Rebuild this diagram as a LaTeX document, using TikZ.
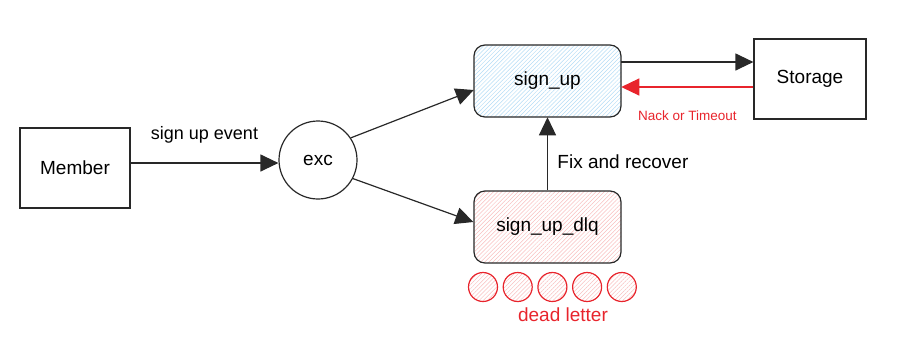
\documentclass[tikz,border=0pt]{standalone}
\usepackage{fontspec}
\setmainfont{Liberation Sans}
\usetikzlibrary{arrows.meta,patterns.meta}
\definecolor{dlred}{RGB}{232,36,44}
\definecolor{hatchblue}{RGB}{180,220,245}
\definecolor{hatchred}{RGB}{248,190,190}
\definecolor{ink}{RGB}{40,40,40}

\begin{document}
\begin{tikzpicture}[x=1pt, y=-1pt, line width=1.2pt, draw=ink,
  >={Triangle[length=18pt,width=17pt]},
  font=\fontsize{19}{23}\selectfont,
  hatch/.style={pattern={Lines[angle=45,distance=2.9pt,line width=0.5pt]}, pattern color=#1},
  box/.style={draw, minimum width=110pt, minimum height=80pt},
  queue/.style={draw, rounded corners=11pt, minimum width=147pt, minimum height=72pt},
  msg/.style={circle, draw=dlred, minimum size=29pt, inner sep=0pt, hatch=hatchred}]
\useasboundingbox (0,0) rectangle (916,349);

\node[box] (mem) at (75,168) {Member};
\node[circle, draw, minimum size=78pt, inner sep=0pt] (exc) at (318,160) {exc};
\node[queue, hatch=hatchblue] (su) at (547.5,81) {sign\_up};
\node[queue, hatch=hatchred] (dlq) at (547.5,227) {sign\_up\_dlq};
\node[box, minimum width=112pt] (st) at (810,79) {Storage};

% dead letters waiting in the queue
\foreach \i in {1,...,5}
  \node[msg] (m\i) at ({448.3+34.7*\i},287) {};
\node[text=dlred] (dl) at (563,315) {dead letter};

\draw[->] ([yshift=5pt]mem.east) -- node[midway, above=16pt, font=\fontsize{18}{22}\selectfont] {sign up event}
  ([yshift=5pt]mem.east -| exc.west);
\draw[->] (exc.34) -- ([yshift=-9pt]su.west);
\draw[->] (exc.-28) -- ([yshift=5pt]dlq.west);
\draw[->] (dlq) -- node[pos=0.39, right=6pt] {Fix and recover} (su);
\draw[->] ([yshift=19pt]su.east) -- ([yshift=19pt]su.east -| st.west);
\draw[->, draw=dlred, color=dlred] ([yshift=-8pt]st.west) --
  node[midway, below=20pt, font=\fontsize{13.5}{16}\selectfont] {Nack or Timeout}
  ([yshift=-8pt]st.west -| su.east);
\end{tikzpicture}
\end{document}
